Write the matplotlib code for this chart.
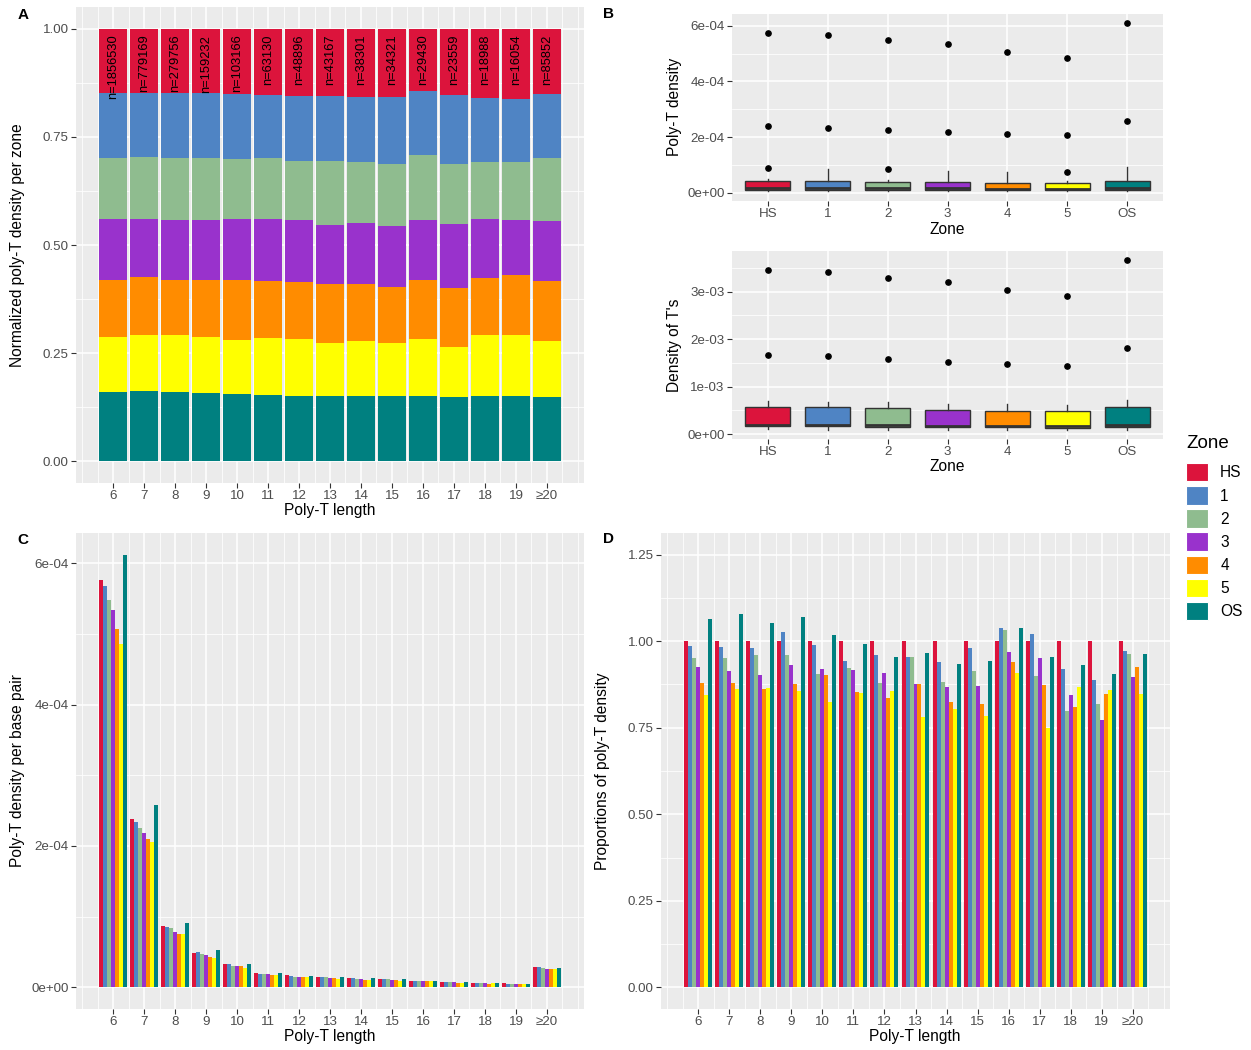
import numpy as np
import matplotlib.pyplot as plt
from matplotlib.patches import Patch

plt.rcParams['font.family'] = ['Liberation Sans', 'DejaVu Sans']

zones = ['HS', '1', '2', '3', '4', '5', 'OS']
zone_colors = ['#DC143C', '#4F84C4', '#8FBC8F', '#9932CC', '#FF8C00', '#FFFF00', '#008080']
lengths = np.arange(6, 21)
length_labels = [str(l) for l in range(6, 20)] + ['≥20']
len_20plus = 24  # mean run length used for the open-ended >=20 class

n_tracts = [1856530, 779169, 279756, 159232, 103166, 63130, 48896, 43167,
            38301, 34321, 29430, 23559, 18988, 16054, 85852]

# share of total poly-T density falling in each zone, per poly-T length
share_hs = [0.149, 0.149, 0.149, 0.148, 0.152, 0.153, 0.156, 0.156, 0.159, 0.158, 0.143, 0.154, 0.161, 0.163, 0.152]
share_1 = [0.149, 0.147, 0.149, 0.152, 0.150, 0.146, 0.150, 0.149, 0.150, 0.155, 0.150, 0.158, 0.148, 0.146, 0.147]
share_2 = [0.143, 0.143, 0.145, 0.143, 0.139, 0.142, 0.137, 0.148, 0.141, 0.144, 0.149, 0.140, 0.131, 0.134, 0.146]
share_3 = [0.139, 0.136, 0.137, 0.139, 0.140, 0.143, 0.142, 0.137, 0.140, 0.139, 0.140, 0.148, 0.136, 0.127, 0.138]
share_4 = [0.132, 0.133, 0.129, 0.131, 0.138, 0.131, 0.132, 0.137, 0.131, 0.130, 0.136, 0.136, 0.132, 0.139, 0.140]
share_5 = [0.128, 0.130, 0.131, 0.128, 0.125, 0.131, 0.133, 0.121, 0.129, 0.124, 0.131, 0.116, 0.140, 0.141, 0.129]
share_os = [0.160, 0.162, 0.160, 0.159, 0.156, 0.154, 0.150, 0.152, 0.150, 0.150, 0.151, 0.148, 0.152, 0.150, 0.148]

# poly-T density per base pair (x 1e-4)
dens_hs = [5.76, 2.38, 0.873, 0.49, 0.33, 0.203, 0.170, 0.146, 0.132, 0.118, 0.094, 0.080, 0.061, 0.057, 0.288]
dens_1 = [5.67, 2.34, 0.854, 0.50, 0.325, 0.193, 0.160, 0.142, 0.127, 0.118, 0.094, 0.080, 0.057, 0.047, 0.283]
dens_2 = [5.48, 2.26, 0.840, 0.47, 0.30, 0.189, 0.151, 0.142, 0.123, 0.113, 0.090, 0.075, 0.057, 0.047, 0.278]
dens_3 = [5.33, 2.18, 0.788, 0.453, 0.30, 0.189, 0.151, 0.132, 0.118, 0.108, 0.090, 0.075, 0.057, 0.042, 0.259]
dens_4 = [5.07, 2.10, 0.755, 0.43, 0.30, 0.175, 0.142, 0.132, 0.108, 0.099, 0.085, 0.066, 0.052, 0.047, 0.264]
dens_5 = [4.86, 2.06, 0.755, 0.42, 0.274, 0.175, 0.142, 0.118, 0.108, 0.094, 0.085, 0.066, 0.057, 0.047, 0.255]
dens_os = [6.12, 2.58, 0.91, 0.524, 0.335, 0.203, 0.160, 0.142, 0.127, 0.113, 0.094, 0.075, 0.057, 0.052, 0.278]

# poly-T density relative to HS
prop_hs = [1.0] * 15
prop_1 = [0.985, 0.983, 0.980, 1.026, 0.990, 0.942, 0.960, 0.955, 0.940, 0.981, 1.039, 1.021, 0.921, 0.888, 0.972]
prop_2 = [0.952, 0.950, 0.959, 0.960, 0.904, 0.922, 0.879, 0.954, 0.881, 0.914, 1.031, 0.900, 0.797, 0.819, 0.964]
prop_3 = [0.925, 0.913, 0.902, 0.931, 0.920, 0.918, 0.908, 0.875, 0.869, 0.871, 0.968, 0.951, 0.844, 0.771, 0.897]
prop_4 = [0.879, 0.879, 0.862, 0.876, 0.902, 0.853, 0.836, 0.875, 0.824, 0.819, 0.940, 0.874, 0.810, 0.847, 0.925]
prop_5 = [0.845, 0.863, 0.865, 0.856, 0.825, 0.849, 0.856, 0.781, 0.804, 0.784, 0.908, 0.750, 0.868, 0.859, 0.847]
prop_os = [1.065, 1.079, 1.053, 1.069, 1.017, 0.991, 0.953, 0.966, 0.933, 0.942, 1.039, 0.953, 0.931, 0.906, 0.962]

shares = [share_hs, share_1, share_2, share_3, share_4, share_5, share_os]
dens = np.array([dens_hs, dens_1, dens_2, dens_3, dens_4, dens_5, dens_os]) * 1e-4
props = [prop_hs, prop_1, prop_2, prop_3, prop_4, prop_5, prop_os]
run_len = np.append(lengths[:-1], len_20plus)
t_dens = dens * run_len

W, H = 1251, 1050
fig = plt.figure(figsize=(W / 100, H / 100), dpi=100)


def box(l, t, r, b):
    return [l / W, 1 - b / H, (r - l) / W, (b - t) / H]


def style(ax):
    ax.set_facecolor('#EBEBEB')
    for s in ax.spines.values():
        s.set_visible(False)
    ax.grid(which='major', color='white', lw=1.1)
    ax.grid(which='minor', color='white', lw=0.55)
    ax.set_axisbelow(True)
    ax.tick_params(which='major', length=3.3, width=0.8, color='#333333',
                   labelsize=9.6, labelcolor='#4D4D4D', pad=2)
    ax.tick_params(which='minor', length=0)


def length_axis(ax):
    ax.set_xlim(4.805, 21.195)
    ax.set_xticks(lengths)
    ax.set_xticklabels(length_labels)
    ax.set_xticks(np.arange(5, 21.5, 0.5), minor=True)


sci = lambda v, p: f'{v:.0e}'

# A: normalised stacked bars
axA = fig.add_axes(box(76, 7, 584, 483))
style(axA)
bottom = np.zeros(15)
for i in range(6, -1, -1):
    axA.bar(lengths, shares[i], 0.9, bottom=bottom, color=zone_colors[i], lw=0)
    bottom += np.array(shares[i])
for x, n in zip(lengths, n_tracts):
    axA.text(x, bottom[0] - 0.014, f'n={n}', rotation=90, ha='center', va='top', fontsize=9.3)
length_axis(axA)
axA.set_ylim(-0.05, 1.05)
axA.set_yticks([0, 0.25, 0.5, 0.75, 1.0])
axA.set_yticklabels(['0.00', '0.25', '0.50', '0.75', '1.00'])
axA.set_yticks([0.125, 0.375, 0.625, 0.875], minor=True)

# B: boxplots per zone
def zone_box(ax, data):
    style(ax)
    bp = ax.boxplot(list(data), positions=range(1, 8), widths=0.75, patch_artist=True,
                    showcaps=False,
                    boxprops=dict(edgecolor='#333333', lw=1.0),
                    medianprops=dict(color='#333333', lw=2.0),
                    whiskerprops=dict(color='#333333', lw=1.0),
                    flierprops=dict(marker='o', mfc='black', mec='black', ms=3.8))
    for patch, c in zip(bp['boxes'], zone_colors):
        patch.set_facecolor(c)
    ax.set_xlim(0.4, 7.6)
    ax.set_xticks(range(1, 8))
    ax.set_xticklabels(zones)
    ax.yaxis.set_major_formatter(sci)


axB1 = fig.add_axes(box(732, 14, 1163, 201))
zone_box(axB1, dens)
axB1.set_ylim(-0.03e-4 * 10, dens.max() * 1.05)
axB1.set_yticks([0, 2e-4, 4e-4, 6e-4])
axB1.set_yticks([1e-4, 3e-4, 5e-4], minor=True)

axB2 = fig.add_axes(box(732, 251, 1163, 439))
zone_box(axB2, t_dens)
span = t_dens.max() - t_dens.min()
axB2.set_ylim(t_dens.min() - 0.05 * span, t_dens.max() + 0.05 * span)
axB2.set_yticks([0, 1e-3, 2e-3, 3e-3])
axB2.set_yticks([0.5e-3, 1.5e-3, 2.5e-3, 3.5e-3], minor=True)

# C and D: dodged bars by zone
w = 0.9 / 7
axC = fig.add_axes(box(76, 533, 584, 1009))
style(axC)
for i in range(7):
    axC.bar(lengths + (i - 3) * w, dens[i], w, color=zone_colors[i], lw=0)
length_axis(axC)
axC.set_ylim(-0.05 * dens.max(), 1.05 * dens.max())
axC.set_yticks([0, 2e-4, 4e-4, 6e-4])
axC.set_yticks([1e-4, 3e-4, 5e-4], minor=True)
axC.yaxis.set_major_formatter(sci)

axD = fig.add_axes(box(661, 533, 1170, 1009))
style(axD)
for i in range(7):
    axD.bar(lengths + (i - 3) * w, props[i], w, color=zone_colors[i], lw=0)
length_axis(axD)
axD.set_ylim(-0.0625, 1.3125)
axD.set_yticks([0, 0.25, 0.5, 0.75, 1.0, 1.25])
axD.set_yticklabels(['0.00', '0.25', '0.50', '0.75', '1.00', '1.25'])
axD.set_yticks(np.arange(0.125, 1.3, 0.25), minor=True)

# axis titles and panel tags
def ftext(x, y, s, **kw):
    kw.setdefault('ha', 'center')
    fig.text(x / W, 1 - y / H, s, va='center', **kw)


ftext(18, 245, 'Normalized poly-T density per zone', rotation=90, fontsize=11.2)
ftext(330, 511, 'Poly-T length', fontsize=11.2)
ftext(674, 107, 'Poly-T density', rotation=90, fontsize=11.2)
ftext(947, 229, 'Zone', fontsize=11.2)
ftext(674, 345, "Density of T's", rotation=90, fontsize=11.2)
ftext(947, 467, 'Zone', fontsize=11.2)
ftext(18, 771, 'Poly-T density per base pair', rotation=90, fontsize=11.2)
ftext(330, 1037, 'Poly-T length', fontsize=11.2)
ftext(603, 771, 'Proportions of poly-T density', rotation=90, fontsize=11.2)
ftext(915, 1037, 'Poly-T length', fontsize=11.2)
for tag, x, y in [('A', 23, 15), ('B', 608, 14), ('C', 23, 540), ('D', 608, 539)]:
    ftext(x, y, tag, fontsize=11, fontweight='bold')

# shared zone legend
ftext(1186, 444, 'Zone', fontsize=13.5, ha='left')
handles = [Patch(facecolor=c, edgecolor='white', lw=0.8) for c in zone_colors]
leg = fig.legend(handles, zones, loc='upper left',
                 bbox_to_anchor=(1186 / W, 1 - 463 / H), frameon=False,
                 fontsize=11.2, handlelength=1.4, handleheight=1.45,
                 labelspacing=0.3, handletextpad=0.8, borderpad=0, borderaxespad=0)

fig.savefig('out.png', dpi=100)
